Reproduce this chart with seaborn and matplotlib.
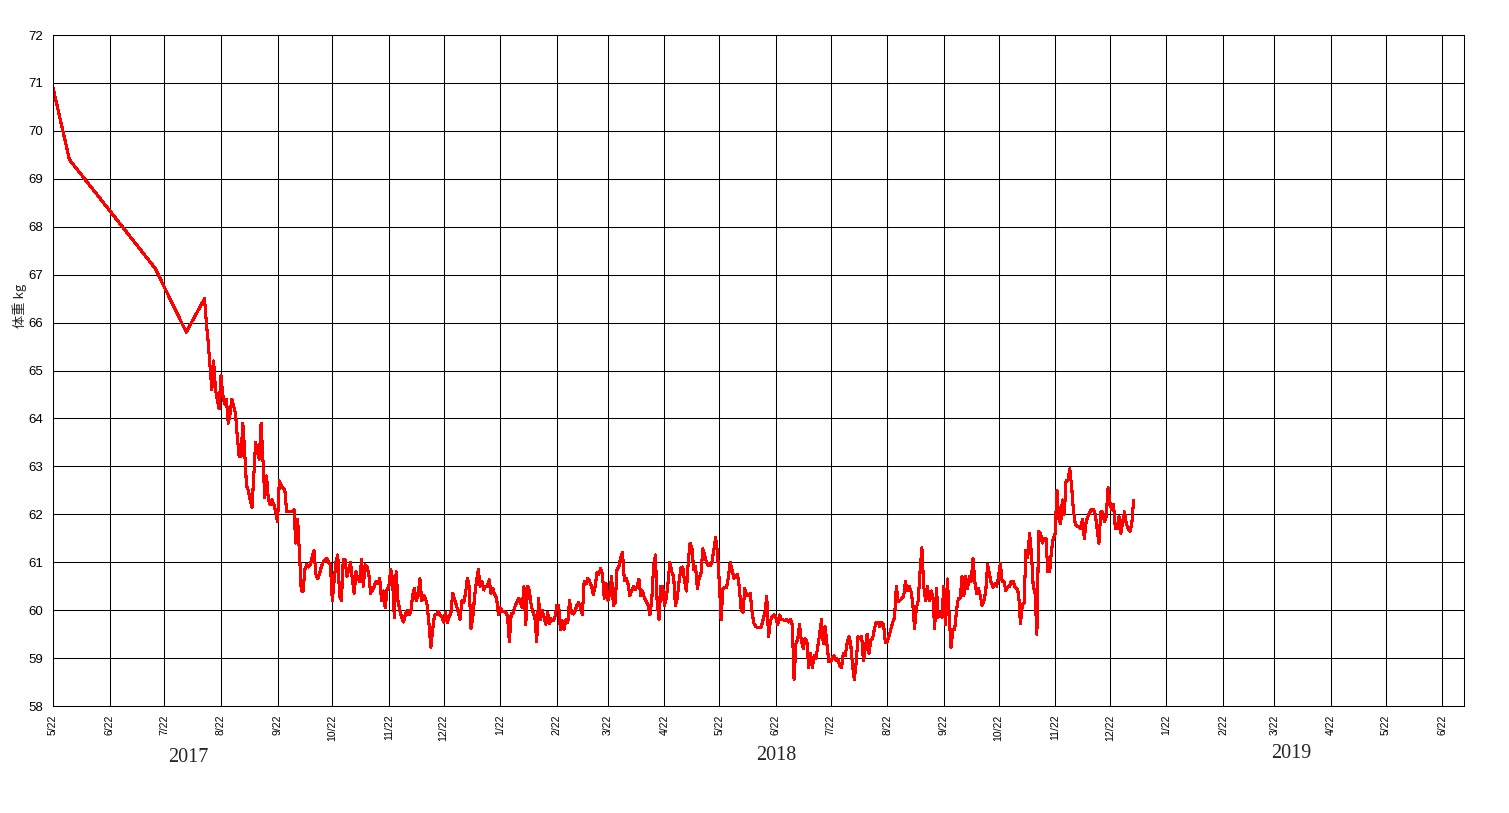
import matplotlib
matplotlib.use("Agg")
import matplotlib.pyplot as plt
import seaborn as sns
import pandas as pd

# ---- data ----
early_dates = ["2017-05-22", "2017-05-31", "2017-07-17", "2017-08-03"]
early_weights = [70.9, 69.4, 67.13, 65.8]

daily_start = "2017-08-13"
daily_weights = [
    66.5, 66.0, 65.6, 65.1, 64.6, 65.2, 64.6, 64.4, 64.2, 64.9,
    64.5, 64.3, 64.4, 63.9, 64.1, 64.4, 64.25, 64.1, 63.6, 63.2,
    63.2, 63.9, 63.3, 62.6, 62.5, 62.3, 62.15, 62.8, 63.5, 63.3,
    63.15, 63.9, 63.15, 62.35, 62.8, 62.3, 62.2, 62.3, 62.2, 62.05,
    61.85, 62.7, 62.6, 62.55, 62.5, 62.05, 62.05, 62.05, 62.05, 62.1,
    61.4, 61.9, 61.2, 60.4, 60.4, 60.85, 60.95, 60.9, 60.95, 61.1,
    61.25, 60.75, 60.65, 60.75, 60.9, 61.0, 61.05, 61.08, 61.0, 60.95,
    60.2, 60.6, 61.0, 61.15, 60.3, 60.2, 61.05, 61.05, 60.7, 60.85,
    61.0, 60.65, 60.35, 60.8, 60.65, 60.6, 61.05, 60.5, 60.95, 60.9,
    60.75, 60.35, 60.42, 60.5, 60.6, 60.55, 60.66, 60.2, 60.4, 60.05,
    60.42, 60.5, 60.85, 60.65, 59.85, 60.8, 60.2, 60.0, 59.85, 59.75,
    59.9, 60.0, 59.9, 59.95, 60.3, 60.45, 60.2, 60.3, 60.66, 60.2,
    60.3, 60.25, 60.1, 59.7, 59.23, 59.6, 59.9, 59.9, 59.98, 59.9,
    59.87, 59.75, 59.95, 59.74, 59.85, 59.95, 60.35, 60.22, 60.1, 59.95,
    59.8, 60.2, 60.15, 60.35, 60.66, 60.5, 59.62, 59.85, 60.3, 60.6,
    60.85, 60.5, 60.6, 60.42, 60.5, 60.5, 60.63, 60.35, 60.45, 60.32,
    60.25, 59.9, 60.05, 59.98, 59.98, 59.95, 59.88, 59.35, 59.92, 59.93,
    60.07, 60.15, 60.25, 60.18, 60.05, 60.49, 59.7, 60.5, 60.4, 60.1,
    59.95, 59.85, 59.35, 60.25, 59.8, 60.0, 59.85, 59.7, 59.95, 59.72,
    59.82, 59.78, 59.86, 60.1, 60.1, 59.6, 59.78, 59.6, 59.8, 59.74,
    60.2, 59.95, 59.92, 59.98, 60.1, 60.16, 60.05, 59.9, 60.6, 60.55,
    60.67, 60.6, 60.5, 60.32, 60.5, 60.78, 60.75, 60.87, 60.75, 60.25,
    60.55, 60.2, 60.35, 60.7, 60.1, 60.15, 60.85, 60.9, 61.1, 61.2,
    60.62, 60.66, 60.55, 60.3, 60.4, 60.5, 60.43, 60.5, 60.65, 60.3,
    60.4, 60.25, 60.18, 60.1, 59.9, 60.2, 60.9, 61.15, 60.15, 59.8,
    60.5, 60.5, 60.1, 60.25, 60.6, 61.0, 60.8, 60.7, 60.1, 60.25,
    60.6, 60.88, 60.9, 60.6, 60.4, 61.0, 61.4, 61.3, 60.85, 60.92,
    60.45, 60.66, 60.78, 61.28, 61.15, 61.0, 60.93, 60.93, 61.0, 61.25,
    61.52, 61.2, 60.6, 59.8, 60.45, 60.47, 60.47, 60.68, 61.0, 60.85,
    60.66, 60.7, 60.75, 60.47, 60.0, 59.95, 60.45, 60.3, 60.3, 60.35,
    59.96, 59.72, 59.66, 59.63, 59.63, 59.65, 59.8, 59.95, 60.29, 59.45,
    59.77, 59.87, 59.9, 59.85, 59.7, 59.9, 59.8, 59.8, 59.78, 59.8,
    59.75, 59.8, 59.7, 58.55, 59.3, 59.4, 59.7, 59.35, 59.2, 59.4,
    59.35, 58.8, 59.1, 58.8, 59.05, 59.0, 59.25, 59.5, 59.8, 59.3,
    59.65, 59.3, 58.93, 58.93, 59.0, 59.05, 58.95, 58.98, 58.85, 58.8,
    59.1, 59.05, 59.3, 59.45, 59.3, 58.85, 58.55, 58.9, 59.45, 59.4,
    59.45, 58.95, 59.2, 59.5, 59.1, 59.37, 59.4, 59.62, 59.75, 59.75,
    59.65, 59.75, 59.7, 59.33, 59.33, 59.46, 59.6, 59.75, 59.83, 60.49,
    60.18, 60.2, 60.24, 60.28, 60.6, 60.4, 60.5, 60.4, 60.15, 59.62,
    60.05, 60.2, 60.8, 61.3, 60.5, 60.2, 60.5, 60.2, 60.4, 60.3,
    59.62, 60.45, 59.85, 59.95, 59.85, 60.5, 59.7, 60.65, 59.85, 59.22,
    59.6, 59.6, 60.0, 60.25, 60.25, 60.7, 60.3, 60.7, 60.45, 60.7,
    60.6, 61.08, 60.6, 60.35, 60.45, 60.3, 60.1, 60.2, 60.4, 60.95,
    60.75, 60.57, 60.48, 60.55, 60.5, 60.7, 60.98, 60.6, 60.6, 60.4,
    60.48, 60.5, 60.6, 60.6, 60.48, 60.45, 60.35, 59.72, 60.1, 60.15,
    61.25, 61.1, 61.6, 61.2, 60.5, 60.35, 59.5, 61.65, 61.6, 61.4,
    61.5, 61.5, 60.8, 60.8, 61.25, 61.5, 61.6, 62.5, 61.9, 61.8,
    62.3, 62.0, 62.7, 62.7, 62.95, 62.6, 62.1, 61.8, 61.75, 61.75,
    61.7, 61.9, 61.5, 61.85, 61.95, 62.05, 62.1, 62.1, 62.0, 61.7,
    61.4, 62.05, 62.05, 61.85, 61.95, 62.55, 62.25, 62.1, 62.2, 61.7,
    61.7, 61.95, 61.6, 61.85, 62.05, 61.8, 61.7, 61.65, 61.8, 62.29,
]

tick_months = [(2017, m) for m in range(5, 13)] + [(2018, m) for m in range(1, 13)] + [(2019, m) for m in range(1, 7)]
tick_labels = [f"{m}/22" for (_, m) in tick_months]
y_ticks = list(range(58, 73))
year_labels = ["2017", "2018", "2019"]
y_label = "体重 kg"

# ---- build frame ----
dates = list(pd.to_datetime(early_dates)) + list(pd.date_range(daily_start, periods=len(daily_weights), freq="D"))
weights = early_weights + daily_weights
df = pd.DataFrame({"date": dates, "weight": weights})

sns.set_style("white")
plt.rcParams["font.family"] = ["Liberation Sans", "DejaVu Sans"]

W, H = 1509, 813
fig = plt.figure(figsize=(W / 100, H / 100), dpi=100)
ax = fig.add_axes([53 / W, 1 - 706 / H, (1464 - 53) / W, (706 - 35) / H])

sns.lineplot(data=df, x="date", y="weight", color="#ff0000", linewidth=1.5,
             estimator=None, ax=ax, antialiased=False)

ax.set_xlim(pd.Timestamp("2017-05-22"), pd.Timestamp("2019-07-04"))
ax.set_ylim(58, 72)
ax.set_yticks(y_ticks)
ax.set_yticklabels([str(v) for v in y_ticks], fontsize=9.5)
ax.set_xticks([pd.Timestamp(y, m, 22) for (y, m) in tick_months])
ax.set_xticklabels(tick_labels, rotation=90, fontsize=7.5, va="top")
ax.set_axisbelow(True)
ax.grid(True, color="black", linewidth=0.75)
ax.tick_params(axis="both", length=0, colors="black")
ax.tick_params(axis="y", pad=7)
ax.tick_params(axis="x", pad=6)
ax.set_xlabel("")
ax.set_ylabel("")
for s in ax.spines.values():
    s.set_color("black")
    s.set_linewidth(0.75)
    s.set_visible(True)

fig.text(20 / W, 1 - 306 / H, y_label, rotation=90, ha="center", va="center",
         fontsize=9.5, family=["Noto Sans CJK JP", "DejaVu Sans"])

year_pos = [(188, 757), (776, 755), (1291, 753)]
for lab, (px, py) in zip(year_labels, year_pos):
    fig.text(px / W, 1 - py / H, lab, ha="center", va="center", fontsize=14.5,
             family=["Liberation Serif", "DejaVu Serif"])

fig.savefig("out.png", dpi=100, facecolor="white")
